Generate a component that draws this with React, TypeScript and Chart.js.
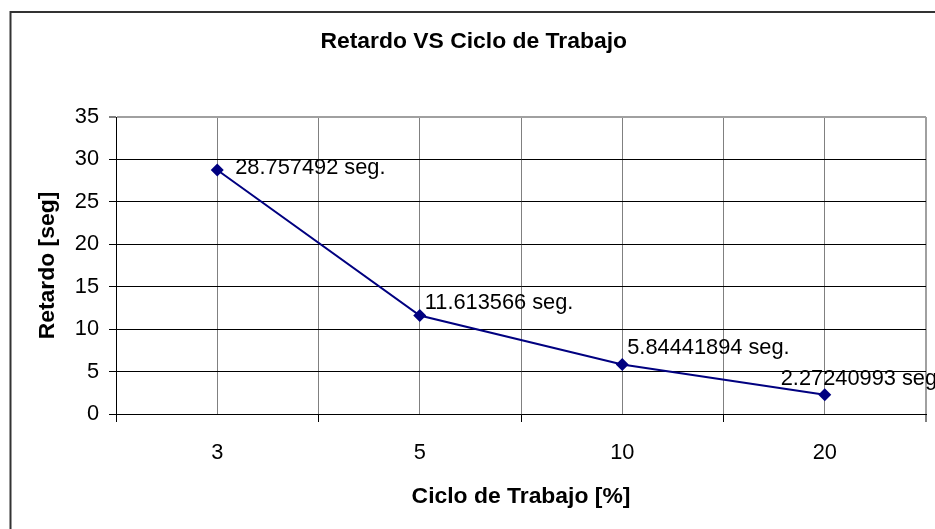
import React, { useEffect, useRef } from 'react';
import { Chart, registerables } from 'chart.js';

Chart.register(...registerables);

const chartTitle = 'Retardo VS Ciclo de Trabajo';
const xTitle = 'Ciclo de Trabajo [%]';
const yTitle = 'Retardo [seg]';
const categories = ['3', '5', '10', '20'];
const retardo = [28.757492, 11.613566, 5.84441894, 2.27240993];
const pointLabels = ['28.757492 seg.', '11.613566 seg.', '5.84441894 seg.', '2.27240993 seg.'];
const yMin = 0;
const yMax = 35;
const yStep = 5;

// label placement offsets (style), relative to each point
const labelOffsets = [
  [18, -2],
  [5, -12],
  [5, -16],
  [-44, -16],
];

const FONT = '"Liberation Sans", Arial, Helvetica, sans-serif';
const NAVY = '#000080';
const BOLD_SIZE = 22.9;
const REG_SIZE = 21.8;

export default function App() {
  const ref = useRef<HTMLCanvasElement>(null);

  useEffect(() => {
    document.body.style.margin = '0';
    const canvas = ref.current!;

    const framePlugin = {
      id: 'frame',
      beforeDraw(chart: any) {
        const c = chart.ctx;
        c.save();
        c.fillStyle = '#ffffff';
        c.fillRect(0, 0, chart.width, chart.height);
        c.strokeStyle = '#333333';
        c.lineWidth = 2;
        c.beginPath();
        c.moveTo(10.5, chart.height);
        c.lineTo(10.5, 12);
        c.lineTo(chart.width, 12);
        c.stroke();
        c.restore();
      },
      afterDraw(chart: any) {
        const c = chart.ctx;
        const area = chart.chartArea;
        c.save();
        c.fillStyle = '#000';
        c.textAlign = 'center';
        c.textBaseline = 'middle';
        c.font = `bold ${BOLD_SIZE}px ${FONT}`;
        c.fillText(chartTitle, 473.7, 42);
        c.fillText(xTitle, (area.left + area.right) / 2, 497);
        c.save();
        c.translate(48, (area.top + area.bottom) / 2);
        c.rotate(-Math.PI / 2);
        c.fillText(yTitle, 0, 0);
        c.restore();
        c.restore();
      },
    };

    const labelPlugin = {
      id: 'pointLabels',
      afterDatasetsDraw(chart: any) {
        const c = chart.ctx;
        const meta = chart.getDatasetMeta(0);
        c.save();
        c.fillStyle = '#000';
        c.font = `${REG_SIZE}px ${FONT}`;
        c.textAlign = 'left';
        c.textBaseline = 'middle';
        meta.data.forEach((pt: any, i: number) => {
          const [dx, dy] = labelOffsets[i];
          c.fillText(pointLabels[i], pt.x + dx, pt.y + dy);
        });
        c.restore();
      },
    };

    const chart = new Chart(canvas, {
      type: 'line',
      data: {
        datasets: [
          {
            data: retardo.map((v, i) => ({ x: i, y: v })),
            borderColor: NAVY,
            backgroundColor: NAVY,
            borderWidth: 2,
            pointStyle: 'rectRot',
            pointRadius: 6.5,
            pointBorderWidth: 0,
            pointBackgroundColor: NAVY,
            fill: false,
            tension: 0,
          },
        ],
      },
      options: {
        animation: false,
        responsive: false,
        devicePixelRatio: 1,
        layout: { padding: { top: 117, right: 9, left: 0, bottom: 0 } },
        plugins: {
          legend: { display: false },
          tooltip: { enabled: false },
          title: { display: false },
        },
        scales: {
          x: {
            type: 'linear',
            min: -0.5,
            max: categories.length - 0.5,
            afterFit: (s: any) => {
              s.height = 115;
              s.paddingLeft = 0;
              s.paddingRight = 0;
            },
            afterBuildTicks: (s: any) => {
              const t = [];
              for (let v = -0.5; v <= categories.length - 0.5 + 1e-9; v += 0.5) t.push({ value: v });
              s.ticks = t;
            },
            ticks: {
              autoSkip: false,
              maxRotation: 0,
              padding: 18,
              color: '#000',
              font: { family: FONT, size: REG_SIZE },
              callback: (v: any) => {
                const n = Number(v);
                return Number.isInteger(n) ? categories[n] : '';
              },
            },
            grid: {
              drawTicks: true,
              tickLength: 8,
              color: (ctx: any) => {
                const v = ctx.tick ? ctx.tick.value : 0;
                if (v === categories.length - 0.5) return '#a0a0a0';
                return '#808080';
              },
              lineWidth: (ctx: any) => {
                const v = ctx.tick ? ctx.tick.value : 0;
                return v === categories.length - 0.5 ? 2 : 1;
              },
              tickColor: (ctx: any) => {
                const v = ctx.tick ? ctx.tick.value : 0;
                return Number.isInteger(v) ? 'rgba(0,0,0,0)' : '#000';
              },
              tickWidth: 1,
            },
            border: { display: true, color: '#000', width: 1 },
          },
          y: {
            min: yMin,
            max: yMax,
            afterFit: (s: any) => {
              s.width = 116;
              s.paddingTop = 0;
              s.paddingBottom = 0;
            },
            ticks: {
              stepSize: yStep,
              padding: 10,
              color: '#000',
              font: { family: FONT, size: REG_SIZE },
            },
            grid: {
              tickLength: 7,
              color: (ctx: any) => (ctx.tick && ctx.tick.value === yMax ? '#a0a0a0' : '#000'),
              lineWidth: (ctx: any) => (ctx.tick && ctx.tick.value === yMax ? 2 : 1),
              tickColor: '#000',
              tickWidth: 1,
            },
            border: { display: true, color: '#000', width: 1 },
          },
        },
      },
      plugins: [framePlugin, labelPlugin],
    } as any);

    return () => chart.destroy();
  }, []);

  return (
    <div style={{ width: 935, height: 529 }}>
      <canvas ref={ref} width={935} height={529} style={{ display: 'block', width: 935, height: 529 }} />
    </div>
  );
}
